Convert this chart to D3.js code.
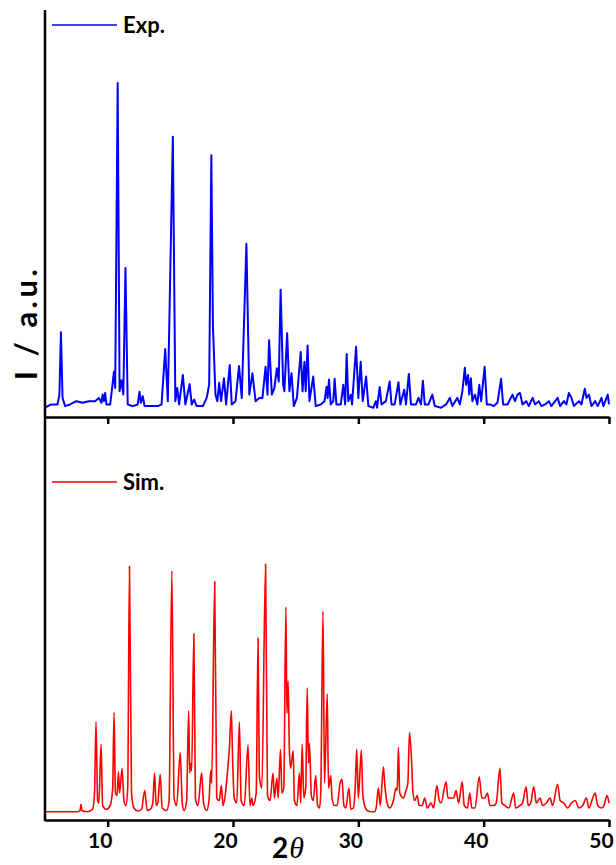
<!DOCTYPE html>
<html>
<head>
<meta charset="utf-8">
<script src="https://cdn.jsdelivr.net/npm/d3@7"></script>
<style>
  body { margin: 0; background: #fff; }
  svg { display: block; }
  text { font-family: Lato, "Open Sans", sans-serif; font-weight: bold; }
</style>
</head>
<body>
<div id="chart"></div>
<script>
// XRD patterns, experimental (top) vs simulated (bottom)

// tick values on the 2theta axis
var xTicks = [10, 20, 30, 40, 50];

// experimental pattern, [2theta, relative intensity]
var expData = [
  [5.0,1],[5.5,2],[6.0,2],[6.15,5],[6.27,24],[6.4,4],[6.6,1.5],[7.0,2],[7.5,3],[8.0,2.5],[8.5,3],[9.0,3],
  [9.3,4],[9.5,2.5],[9.6,5],[9.7,3],[9.8,5.5],[9.9,2],[10.2,2],[10.4,8.5],[10.5,12],[10.6,7],[10.8,100],
  [10.95,6],[11.1,9.4],[11.25,5],[11.42,43.6],[11.6,2],[12.0,1.5],[12.4,2],[12.54,5.9],[12.65,2.5],[12.8,4.5],
  [12.95,1.5],[13.5,1.5],[14.0,1.5],[14.3,2],[14.59,18.9],[14.8,3],[15.2,83.6],[15.4,3],[15.55,7],[15.7,2],
  [16.0,11],[16.2,2],[16.54,8.2],[16.7,2],[16.9,3.5],[17.1,1.5],[17.6,1.5],[17.9,4],[18.1,8],[18.27,78],
  [18.4,25.7],[18.6,5],[18.75,3],[18.9,8.6],[19.05,3],[19.28,10],[19.45,2],[19.74,14],[19.9,2],[20.2,3],
  [20.48,13.7],[20.7,4],[21.07,51],[21.3,5],[21.55,11.5],[21.8,3],[22.1,4],[22.35,4],[22.6,13.5],[22.75,5],
  [22.88,21.6],[23.1,5],[23.3,7],[23.5,13],[23.65,9],[23.8,37],[24.0,8],[24.1,6],[24.32,23.7],[24.5,6],
  [24.67,11.5],[24.85,1.5],[25.1,4],[25.4,18],[25.55,6],[25.7,15],[25.8,6],[25.95,20],[26.1,3],[26.4,10.5],
  [26.6,1.5],[27.0,2],[27.3,3],[27.47,7.4],[27.55,4],[27.66,9.6],[27.8,2],[28.0,3],[28.11,9.8],[28.25,2],
  [28.6,2],[28.8,8],[28.95,2],[29.07,17.4],[29.2,3],[29.4,5],[29.5,2],[29.82,19.6],[30.0,4],[30.19,15],
  [30.35,3],[30.62,10.5],[30.8,1.5],[31.2,1],[31.4,3],[31.5,1],[31.7,7.3],[31.85,2],[32.2,3],[32.5,9],
  [32.65,2],[32.9,2],[33.2,8.8],[33.35,2],[33.66,6.5],[33.8,2],[34.03,11.3],[34.2,2],[34.6,2],[34.8,4],
  [35.0,2],[35.15,9.2],[35.3,2],[35.6,2],[35.9,5],[36.1,1.5],[36.6,1],[37.0,2],[37.3,4],[37.5,1.5],[37.9,4],
  [38.1,2],[38.3,6],[38.5,13.2],[38.6,8],[38.75,11],[38.85,5],[38.98,10],[39.1,3],[39.3,5],[39.5,2],
  [39.65,8],[39.8,3],[40.08,13.5],[40.25,2],[40.5,2],[40.8,1.5],[41.1,2.5],[41.39,9.8],[41.55,2],[41.9,2],
  [42.3,5],[42.5,3],[42.7,5],[42.9,5.5],[43.1,2],[43.4,3],[43.6,1.5],[43.9,4],[44.1,2],[44.4,3],[44.6,1.5],
  [44.9,2],[45.2,3],[45.4,1.5],[45.7,3],[45.9,4],[46.1,1.5],[46.4,3],[46.6,2],[46.8,5.5],[47.0,4],[47.2,1.5],
  [47.6,3],[47.8,2],[48.07,6.8],[48.2,4],[48.4,5],[48.6,1.5],[48.9,3],[49.1,1.5],[49.4,4],[49.55,1.5],
  [49.9,5],[50,2]
];

// simulated pattern, [2theta, relative intensity]
var simData = [
  [5,0.5],[7.6,0.5],[7.8,1],[7.87,3.5],[7.95,1],[8.3,0.5],[8.8,1.5],[8.95,8],[9.07,36.5],[9.2,5],[9.3,4],
  [9.47,27.6],[9.6,3],[9.9,1.5],[10.2,3],[10.4,10],[10.51,40.3],[10.62,8],[10.75,7],[10.86,16.5],[10.95,8],
  [11.15,17.9],[11.3,5],[11.45,3],[11.6,10],[11.74,99],[11.9,8],[12.1,2],[12.4,0.8],[12.7,1.5],[12.96,9],
  [13.15,1],[13.4,1.5],[13.6,4],[13.74,16],[13.87,3],[14.0,4],[14.19,15.5],[14.35,2],[14.7,1],[14.9,5],
  [15.12,97.3],[15.3,6],[15.5,3],[15.79,24.3],[15.95,4],[16.1,1],[16.3,5],[16.46,41],[16.55,16],[16.62,20],
  [16.7,17],[16.88,72],[17.0,6],[17.2,3],[17.5,16],[17.65,4],[17.9,1],[18.1,6],[18.22,17],[18.3,12],
  [18.54,93],[18.7,6],[18.9,5],[19.07,11],[19.2,3],[19.4,8],[19.56,16.5],[19.7,25],[19.87,41],[19.95,25],
  [20.1,6],[20.3,4],[20.51,36.5],[20.65,5],[20.9,3],[21.2,27.3],[21.35,3],[21.5,6],[21.6,3],[21.85,8],
  [22.0,70.3],[22.1,15],[22.3,10],[22.6,100],[22.75,7],[22.95,5],[23.2,16],[23.3,6],[23.5,14],[23.6,6],
  [23.79,25.6],[23.9,8],[24.05,10],[24.22,82.7],[24.3,40],[24.4,53],[24.5,25],[24.6,18],[24.8,25],[24.9,5],
  [25.1,3],[25.3,16],[25.4,4],[25.52,27.6],[25.65,6],[25.8,10],[25.92,50.3],[26.02,20],[26.1,28],[26.25,7],
  [26.4,5],[26.6,15],[26.75,3],[26.9,2],[27.0,8],[27.18,81],[27.3,12],[27.52,47.9],[27.62,10],[27.8,15],
  [27.9,6],[28.1,3],[28.3,3],[28.55,12],[28.7,13.5],[28.85,3],[29.0,2],[29.25,10],[29.4,1.5],[29.6,2],
  [29.75,10],[29.87,25.6],[30.0,6],[30.24,25.3],[30.35,8],[30.5,3],[30.7,1],[31.0,0.5],[31.3,0.5],[31.45,3],
  [31.6,10],[31.75,3],[32.0,18.5],[32.1,12],[32.3,4],[32.5,2],[32.8,5],[33.0,10],[33.1,9],[33.2,26.3],
  [33.3,8],[33.6,6],[33.8,9],[33.95,12],[34.08,32.3],[34.25,21],[34.35,9],[34.5,5],[34.7,7],[34.85,3],
  [35.1,3],[35.3,6],[35.5,2],[35.8,4],[36.0,2],[36.27,11],[36.45,5],[36.6,4],[37.0,12.5],[37.15,6],[37.4,6],
  [37.6,6],[37.8,9],[38.0,4],[38.29,12.5],[38.45,3],[38.7,2],[38.9,8],[39.05,2],[39.3,2],[39.65,14.5],
  [39.85,6],[40.1,6],[40.3,8],[40.5,3],[40.8,3],[41.0,4],[41.3,18],[41.45,4],[41.7,3],[42.0,2],[42.4,8],
  [42.55,2],[42.9,3],[43.1,4],[43.39,10.5],[43.55,3],[43.75,4],[44.0,10.5],[44.2,4],[44.5,6],[44.7,3],
  [45.0,4],[45.3,6],[45.5,3],[45.9,11.5],[46.1,5],[46.4,4],[46.7,2],[47.0,4],[47.3,5],[47.6,2],[47.9,3],
  [48.2,6],[48.4,2],[48.7,6],[48.9,8],[49.1,3],[49.4,2],[49.6,3],[49.85,7],[50,4]
];

var width = 616, height = 865;
var left = 45, right = 609,
    top1 = 10, axis1 = 417,   // top panel
    axis2 = 820;              // bottom panel

var svg = d3.select("#chart").append("svg")
    .attr("width", width)
    .attr("height", height);

var x = d3.scaleLinear().domain([5, 50]).range([left, right]);
var yExp = d3.scaleLinear().domain([0, 100]).range([411, 83]);
var ySim = d3.scaleLinear().domain([0, 100]).range([813, 564]);

var lineExp = d3.line()
    .x(function(d){ return x(d[0]); })
    .y(function(d){ return yExp(d[1]); });

var lineSim = d3.line()
    .x(function(d){ return x(d[0]); })
    .y(function(d){ return ySim(d[1]); })
    .curve(d3.curveMonotoneX);

svg.append("path")
    .datum(expData)
    .attr("d", lineExp)
    .attr("fill", "none")
    .attr("stroke", "#0000ff")
    .attr("stroke-width", 2)
    .attr("stroke-linejoin", "round");

svg.append("path")
    .datum(simData)
    .attr("d", lineSim)
    .attr("fill", "none")
    .attr("stroke", "#ff0000")
    .attr("stroke-width", 1.6)
    .attr("stroke-linejoin", "round");

// x axes
var axisTop = d3.axisBottom(x).tickValues(xTicks).tickSize(7).tickSizeOuter(0).tickFormat("");
var axisBot = d3.axisBottom(x).tickValues(xTicks).tickSize(7).tickSizeOuter(0).tickPadding(6);

var gTop = svg.append("g").attr("transform", "translate(0," + axis1 + ")").call(axisTop);
var gBot = svg.append("g").attr("transform", "translate(0," + axis2 + ")").call(axisBot);

[gTop, gBot].forEach(function(g){
  g.select(".domain").attr("stroke", "#000").attr("stroke-width", 2.5);
  g.selectAll(".tick line").attr("stroke", "#000").attr("stroke-width", 2.5);
});
// labels sit a little left of their ticks in the original
gBot.selectAll(".tick text")
    .attr("fill", "#000")
    .attr("dx", -8)
    .style("font-size", "21px")
    .style("font-family", "Lato, sans-serif")
    .style("font-weight", "bold");

// left axis line
svg.append("line")
    .attr("x1", left).attr("x2", left)
    .attr("y1", top1).attr("y2", axis2 + 1.25)
    .attr("stroke", "#000")
    .attr("stroke-width", 2.5);

// legends
var legends = [
  {label: "Exp.", color: "#0000ff", y: 25},
  {label: "Sim.", color: "#ff0000", y: 482}
];
legends.forEach(function(l){
  svg.append("line")
      .attr("x1", 52).attr("x2", 117)
      .attr("y1", l.y).attr("y2", l.y)
      .attr("stroke", l.color)
      .attr("stroke-width", 1.6);
  svg.append("text")
      .attr("x", 123).attr("y", l.y + 8)
      .style("font-size", "22px")
      .text(l.label);
});

// axis titles
svg.append("text")
    .attr("transform", "translate(37,323) rotate(-90)")
    .attr("text-anchor", "middle")
    .style("font-size", "31px")
    .style("letter-spacing", "3.5px")
    .text("I / a.u.");

var xt = svg.append("text")
    .attr("x", 288).attr("y", 858)
    .attr("text-anchor", "middle")
    .style("font-size", "28px");
xt.append("tspan").text("2");
xt.append("tspan")
    .attr("dx", 1)
    .style("font-family", "'Liberation Serif', serif")
    .style("font-style", "italic")
    .style("font-weight", "normal")
    .style("font-size", "30px")
    .text("θ");
</script>
</body>
</html>
